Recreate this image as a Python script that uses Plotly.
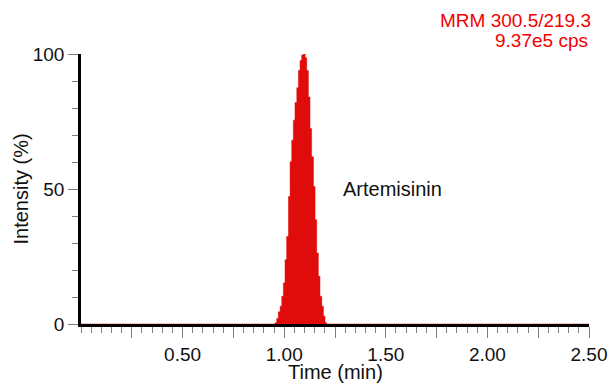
import plotly.graph_objects as go

# Extracted ion chromatogram, MRM 300.5/219.3 (normalised intensity, %)
time_min = [0.000, 0.947, 0.955, 0.963, 0.971, 0.980, 0.988, 0.996, 1.004, 1.012,
            1.021, 1.029, 1.037, 1.045, 1.053, 1.062, 1.070, 1.078, 1.086, 1.094,
            1.103, 1.111, 1.119, 1.127, 1.135, 1.144, 1.152, 1.160, 1.168, 1.176,
            1.185, 1.193, 1.201, 1.209, 2.500]
intensity_pct = [0.0, 0.0, 0.5, 2.0, 4.5, 6.6, 10.3, 15.2, 23.8, 32.4,
                 47.2, 60.1, 68.1, 75.5, 82.0, 87.5, 93.9, 97.6, 99.6, 100.0,
                 98.6, 93.9, 84.1, 72.4, 61.9, 50.9, 38.6, 26.3, 17.7, 10.3,
                 6.6, 2.9, 0.5, 0.0, 0.0]

x_tick_vals = [0.25, 0.50, 0.75, 1.00, 1.25, 1.50, 1.75, 2.00, 2.25, 2.50]
x_tick_text = ["", "0.50", "", "1.00", "", "1.50", "", "2.00", "", "2.50"]
y_tick_vals = [0, 50, 100]
y_tick_text = ["0", "50", "100"]

peak_label = "Artemisinin"
trace_title = ["MRM 300.5/219.3", "9.37e5 cps"]

RED = "#e00b0b"
TEXT_RED = "#f20000"
INK = "#111111"
FONT = "Liberation Sans, Arial, sans-serif"
TICK_FS = 19
LABEL_FS = 20

fig = go.Figure()
fig.add_trace(go.Scatter(
    x=time_min, y=intensity_pct,
    mode="lines", line=dict(shape="hv", color=RED, width=0.5),
    fill="tozeroy", fillcolor=RED, hoverinfo="skip", showlegend=False,
))

fig.update_layout(
    width=610, height=385,
    margin=dict(l=80.5, r=21, t=53.5, b=60.5, pad=0, autoexpand=False),
    paper_bgcolor="white", plot_bgcolor="white",
    font=dict(family=FONT, size=TICK_FS, color=INK),
    showlegend=False,
)

fig.update_xaxes(
    range=[0, 2.5], showgrid=False, zeroline=False, automargin=False,
    showline=True, linecolor="black", linewidth=2.5,
    tickmode="array", tickvals=x_tick_vals, ticktext=x_tick_text,
    ticks="outside", ticklen=11, tickwidth=1.2, tickcolor="#7f7f7f",
    minor=dict(dtick=0.05, tick0=0, ticks="outside", ticklen=6,
               tickwidth=1.2, tickcolor="#7f7f7f", showgrid=False),
    tickfont=dict(size=TICK_FS, color=INK),
)
fig.update_yaxes(
    range=[0, 100], showgrid=False, zeroline=False, automargin=False,
    showline=True, linecolor="black", linewidth=2.5,
    tickmode="array", tickvals=y_tick_vals, ticktext=y_tick_text,
    ticks="outside", ticklen=10, tickwidth=1.2, tickcolor="#7f7f7f",
    minor=dict(dtick=10, tick0=0, ticks="outside", ticklen=6,
               tickwidth=1.2, tickcolor="#7f7f7f", showgrid=False),
    tickfont=dict(size=TICK_FS, color=INK),
)

# axis titles
fig.add_annotation(text="Time (min)", xref="paper", yref="paper",
                   x=0.5, y=-0.179, xanchor="center", yanchor="middle",
                   showarrow=False, font=dict(size=LABEL_FS, color=INK))
fig.add_annotation(text="Intensity (%)", xref="paper", yref="paper",
                   x=-0.119, y=0.5, xanchor="center", yanchor="middle",
                   textangle=-90, showarrow=False,
                   font=dict(size=LABEL_FS, color=INK))

# peak name
fig.add_annotation(text=peak_label, xref="x", yref="y",
                   x=1.279, y=50, xanchor="left", yanchor="middle",
                   showarrow=False, font=dict(size=LABEL_FS, color=INK))

# trace header (top right)
fig.add_annotation(text=trace_title[0], xref="paper", yref="paper",
                   x=1.008, y=1.1236, xanchor="right", yanchor="middle",
                   showarrow=False, font=dict(size=TICK_FS, color=TEXT_RED))
fig.add_annotation(text=trace_title[1], xref="paper", yref="paper",
                   x=1.001, y=1.0498, xanchor="right", yanchor="middle",
                   showarrow=False, font=dict(size=TICK_FS, color=TEXT_RED))

fig.write_html("out.html")
